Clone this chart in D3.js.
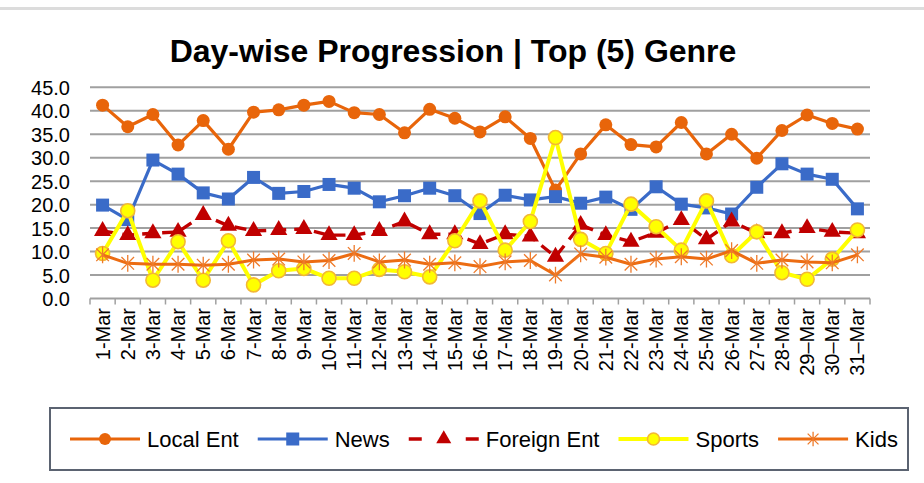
<!DOCTYPE html>
<html lang="en">
<head>
    <meta charset="utf-8">
    <script src="https://d3js.org/d3.v7.min.js"></script>
    <style>
        body { margin: 0; background: #fff; }
        text { font-family: "Liberation Sans", Arial, sans-serif; fill: #000; }
    </style>
</head>
<body>
<script>

    // ---- data ----
    let days = ['1-Mar', '2-Mar', '3-Mar', '4-Mar', '5-Mar', '6-Mar', '7-Mar', '8-Mar', '9-Mar', '10-Mar',
        '11-Mar', '12-Mar', '13-Mar', '14-Mar', '15-Mar', '16-Mar', '17-Mar', '18-Mar', '19-Mar', '20-Mar',
        '21-Mar', '22-Mar', '23-Mar', '24-Mar', '25-Mar', '26-Mar', '27-Mar', '28-Mar', '29\u2013Mar', '30\u2013Mar', '31\u2013Mar'];

    let localEnt = [41.2, 36.6, 39.2, 32.7, 37.9, 31.8, 39.7, 40.2, 41.2, 42.0,
        39.6, 39.2, 35.3, 40.3, 38.4, 35.5, 38.7, 34.1, 23.1, 30.8,
        37.0, 32.8, 32.3, 37.5, 30.8, 35.0, 29.9, 35.8, 39.1, 37.3, 36.1];

    let news = [19.9, 16.8, 29.5, 26.5, 22.5, 21.2, 25.8, 22.4, 22.8, 24.3,
        23.5, 20.6, 21.9, 23.5, 21.9, 18.1, 22.0, 21.0, 21.7, 20.3,
        21.6, 19.0, 23.8, 20.1, 19.3, 18.0, 23.7, 28.7, 26.5, 25.4, 19.1];

    let foreignEnt = [14.4, 13.5, 13.9, 14.2, 17.8, 15.5, 14.4, 14.6, 14.8, 13.5,
        13.5, 14.4, 16.4, 13.7, 13.7, 11.6, 13.7, 13.2, 8.9, 15.7,
        13.5, 12.1, 14.0, 16.7, 12.6, 16.4, 13.9, 13.9, 15.0, 14.2, 13.9];

    let sports = [9.6, 18.7, 3.9, 12.1, 3.9, 12.3, 2.9, 5.9, 6.4, 4.3,
        4.3, 6.2, 5.7, 4.6, 12.3, 20.8, 10.3, 16.4, 34.3, 12.6,
        9.6, 20.1, 15.3, 10.3, 20.8, 9.1, 14.2, 5.5, 4.1, 8.4, 14.6];

    let kids = [9.3, 7.5, 7.3, 7.3, 7.1, 7.3, 8.2, 8.4, 7.8, 8.1,
        9.6, 7.8, 8.2, 7.3, 7.6, 6.8, 7.8, 8.1, 5.0, 9.5,
        8.8, 7.3, 8.4, 8.9, 8.4, 10.2, 7.5, 8.2, 7.8, 7.6, 9.3];

    let yTicks = [0, 5, 10, 15, 20, 25, 30, 35, 40, 45];

    let series = [
        {name: 'Local Ent', values: localEnt, color: '#e8650a', width: 3.2, dash: null, marker: 'circle'},
        {name: 'News', values: news, color: '#3a6bc8', width: 3.2, dash: null, marker: 'square'},
        {name: 'Foreign Ent', values: foreignEnt, color: '#c00000', width: 3.4, dash: '12,8', marker: 'triangle'},
        {name: 'Sports', values: sports, color: '#ffff00', width: 4, dash: null, marker: 'sun'},
        {name: 'Kids', values: kids, color: '#ec6c12', width: 3, dash: null, marker: 'star'}
    ];

    let svg = d3.select('body').append('svg')
        .attr('width', 924).attr('height', 483);

    // faint frame line at the top
    svg.append('line')
        .attr('x1', 0).attr('x2', 924).attr('y1', 8.5).attr('y2', 8.5)
        .attr('stroke', '#dcdcdc').attr('stroke-width', 3);

    svg.append('text')
        .attr('x', 453).attr('y', 62)
        .attr('text-anchor', 'middle')
        .style('font-size', '32px').style('font-weight', 'bold')
        .text('Day-wise Progression | Top (5) Genre');

    let x = d3.scaleBand().domain(days).range([90, 870]).padding(0);
    let y = d3.scaleLinear().domain([0, 45]).range([298.5, 87.3]);
    let cx = function (d) { return x(d) + x.bandwidth() / 2; };

    // gridlines
    svg.append('g').selectAll('line')
        .data(yTicks.filter(function (t) { return t > 0; }))
        .enter().append('line')
        .attr('x1', 90).attr('x2', 870)
        .attr('y1', function (d) { return y(d); })
        .attr('y2', function (d) { return y(d); })
        .attr('stroke', '#a0a0a0').attr('stroke-width', 2);

    // y labels
    let yAxis = svg.append('g').attr('transform', 'translate(90,0)')
        .call(d3.axisLeft(y).tickValues(yTicks).tickFormat(d3.format('.1f')).tickSize(0).tickPadding(20));
    yAxis.select('.domain').remove();
    yAxis.selectAll('text').style('font-size', '20px').style('font-family', '"Liberation Sans", Arial, sans-serif')
        .attr('dy', '0.36em');

    // x axis line + boundary ticks
    let xAxis = svg.append('g');
    xAxis.append('line')
        .attr('x1', 90).attr('x2', 870).attr('y1', y(0)).attr('y2', y(0))
        .attr('stroke', '#a0a0a0').attr('stroke-width', 2);
    xAxis.selectAll('line.tick')
        .data(days.map(function (d) { return x(d); }).concat([x.range()[1]]))
        .enter().append('line').attr('class', 'tick')
        .attr('x1', function (d) { return d; }).attr('x2', function (d) { return d; })
        .attr('y1', y(0)).attr('y2', y(0) + 6)
        .attr('stroke', '#a0a0a0').attr('stroke-width', 1.5);
    xAxis.selectAll('text')
        .data(days).enter().append('text')
        .attr('transform', function (d) { return 'translate(' + cx(d) + ',308) rotate(-90)'; })
        .attr('text-anchor', 'end')
        .attr('dy', '0.35em')
        .style('font-size', '20px')
        .text(function (d) { return d; });

    function drawMarker(g, s, size) {
        if (s.marker === 'circle') {
            g.append('circle').attr('r', size * 0.5).attr('fill', s.color);
        } else if (s.marker === 'square') {
            g.append('rect').attr('x', -size * 0.5).attr('y', -size * 0.5)
                .attr('width', size).attr('height', size).attr('fill', s.color);
        } else if (s.marker === 'triangle') {
            g.append('path').attr('d', d3.symbol().type(d3.symbolTriangle).size(size * size * 0.5)())
                .attr('fill', s.color);
        } else if (s.marker === 'sun') {
            g.append('circle').attr('r', size * 0.5).attr('fill', '#ffff00')
                .attr('stroke', '#f3b834').attr('stroke-width', 1.6);
        } else if (s.marker === 'star') {
            let r = size * 0.6;
            let k = r * 0.75;
            g.append('path')
                .attr('d', 'M0,' + (-r) + 'V' + r + 'M' + (-k) + ',' + (-k) + 'L' + k + ',' + k +
                    'M' + (-k) + ',' + k + 'L' + k + ',' + (-k))
                .attr('stroke', '#ee7a2a').attr('stroke-width', 1.3).attr('fill', 'none');
        }
    }

    let markerSize = {circle: 13, square: 13, triangle: 16, sun: 14, star: 14};

    let line = d3.line()
        .x(function (d, i) { return cx(days[i]); })
        .y(function (d) { return y(d); });

    series.forEach(function (s) {
        let g = svg.append('g');
        g.append('path')
            .attr('d', line(s.values))
            .attr('fill', 'none')
            .attr('stroke', s.color)
            .attr('stroke-width', s.width)
            .attr('stroke-linejoin', 'round')
            .attr('stroke-dasharray', s.dash);
        g.selectAll('g.m').data(s.values).enter().append('g').attr('class', 'm')
            .attr('transform', function (d, i) { return 'translate(' + cx(days[i]) + ',' + y(d) + ')'; })
            .each(function () { drawMarker(d3.select(this), s, markerSize[s.marker]); });
    });

    // legend
    let legend = svg.append('g');
    legend.append('rect')
        .attr('x', 50).attr('y', 408).attr('width', 858).attr('height', 62)
        .attr('fill', '#fff').attr('stroke', '#5b6371').attr('stroke-width', 2);

    let lx = 70;
    series.forEach(function (s) {
        let item = legend.append('g');
        item.append('line')
            .attr('x1', lx).attr('x2', lx + 70).attr('y1', 439).attr('y2', 439)
            .attr('stroke', s.color).attr('stroke-width', s.width)
            .attr('stroke-dasharray', s.dash ? '13,44,13' : null);
        let m = item.append('g').attr('transform', 'translate(' + (lx + 35) + ',439)');
        drawMarker(m, s, s.marker === 'square' ? 13 : (s.marker === 'triangle' ? 14 : 12));
        let t = item.append('text')
            .attr('x', lx + 77).attr('y', 447)
            .style('font-size', '22px')
            .text(s.name);
        lx = lx + 77 + t.node().getComputedTextLength() + 19;
    });

</script>
</body>
</html>
